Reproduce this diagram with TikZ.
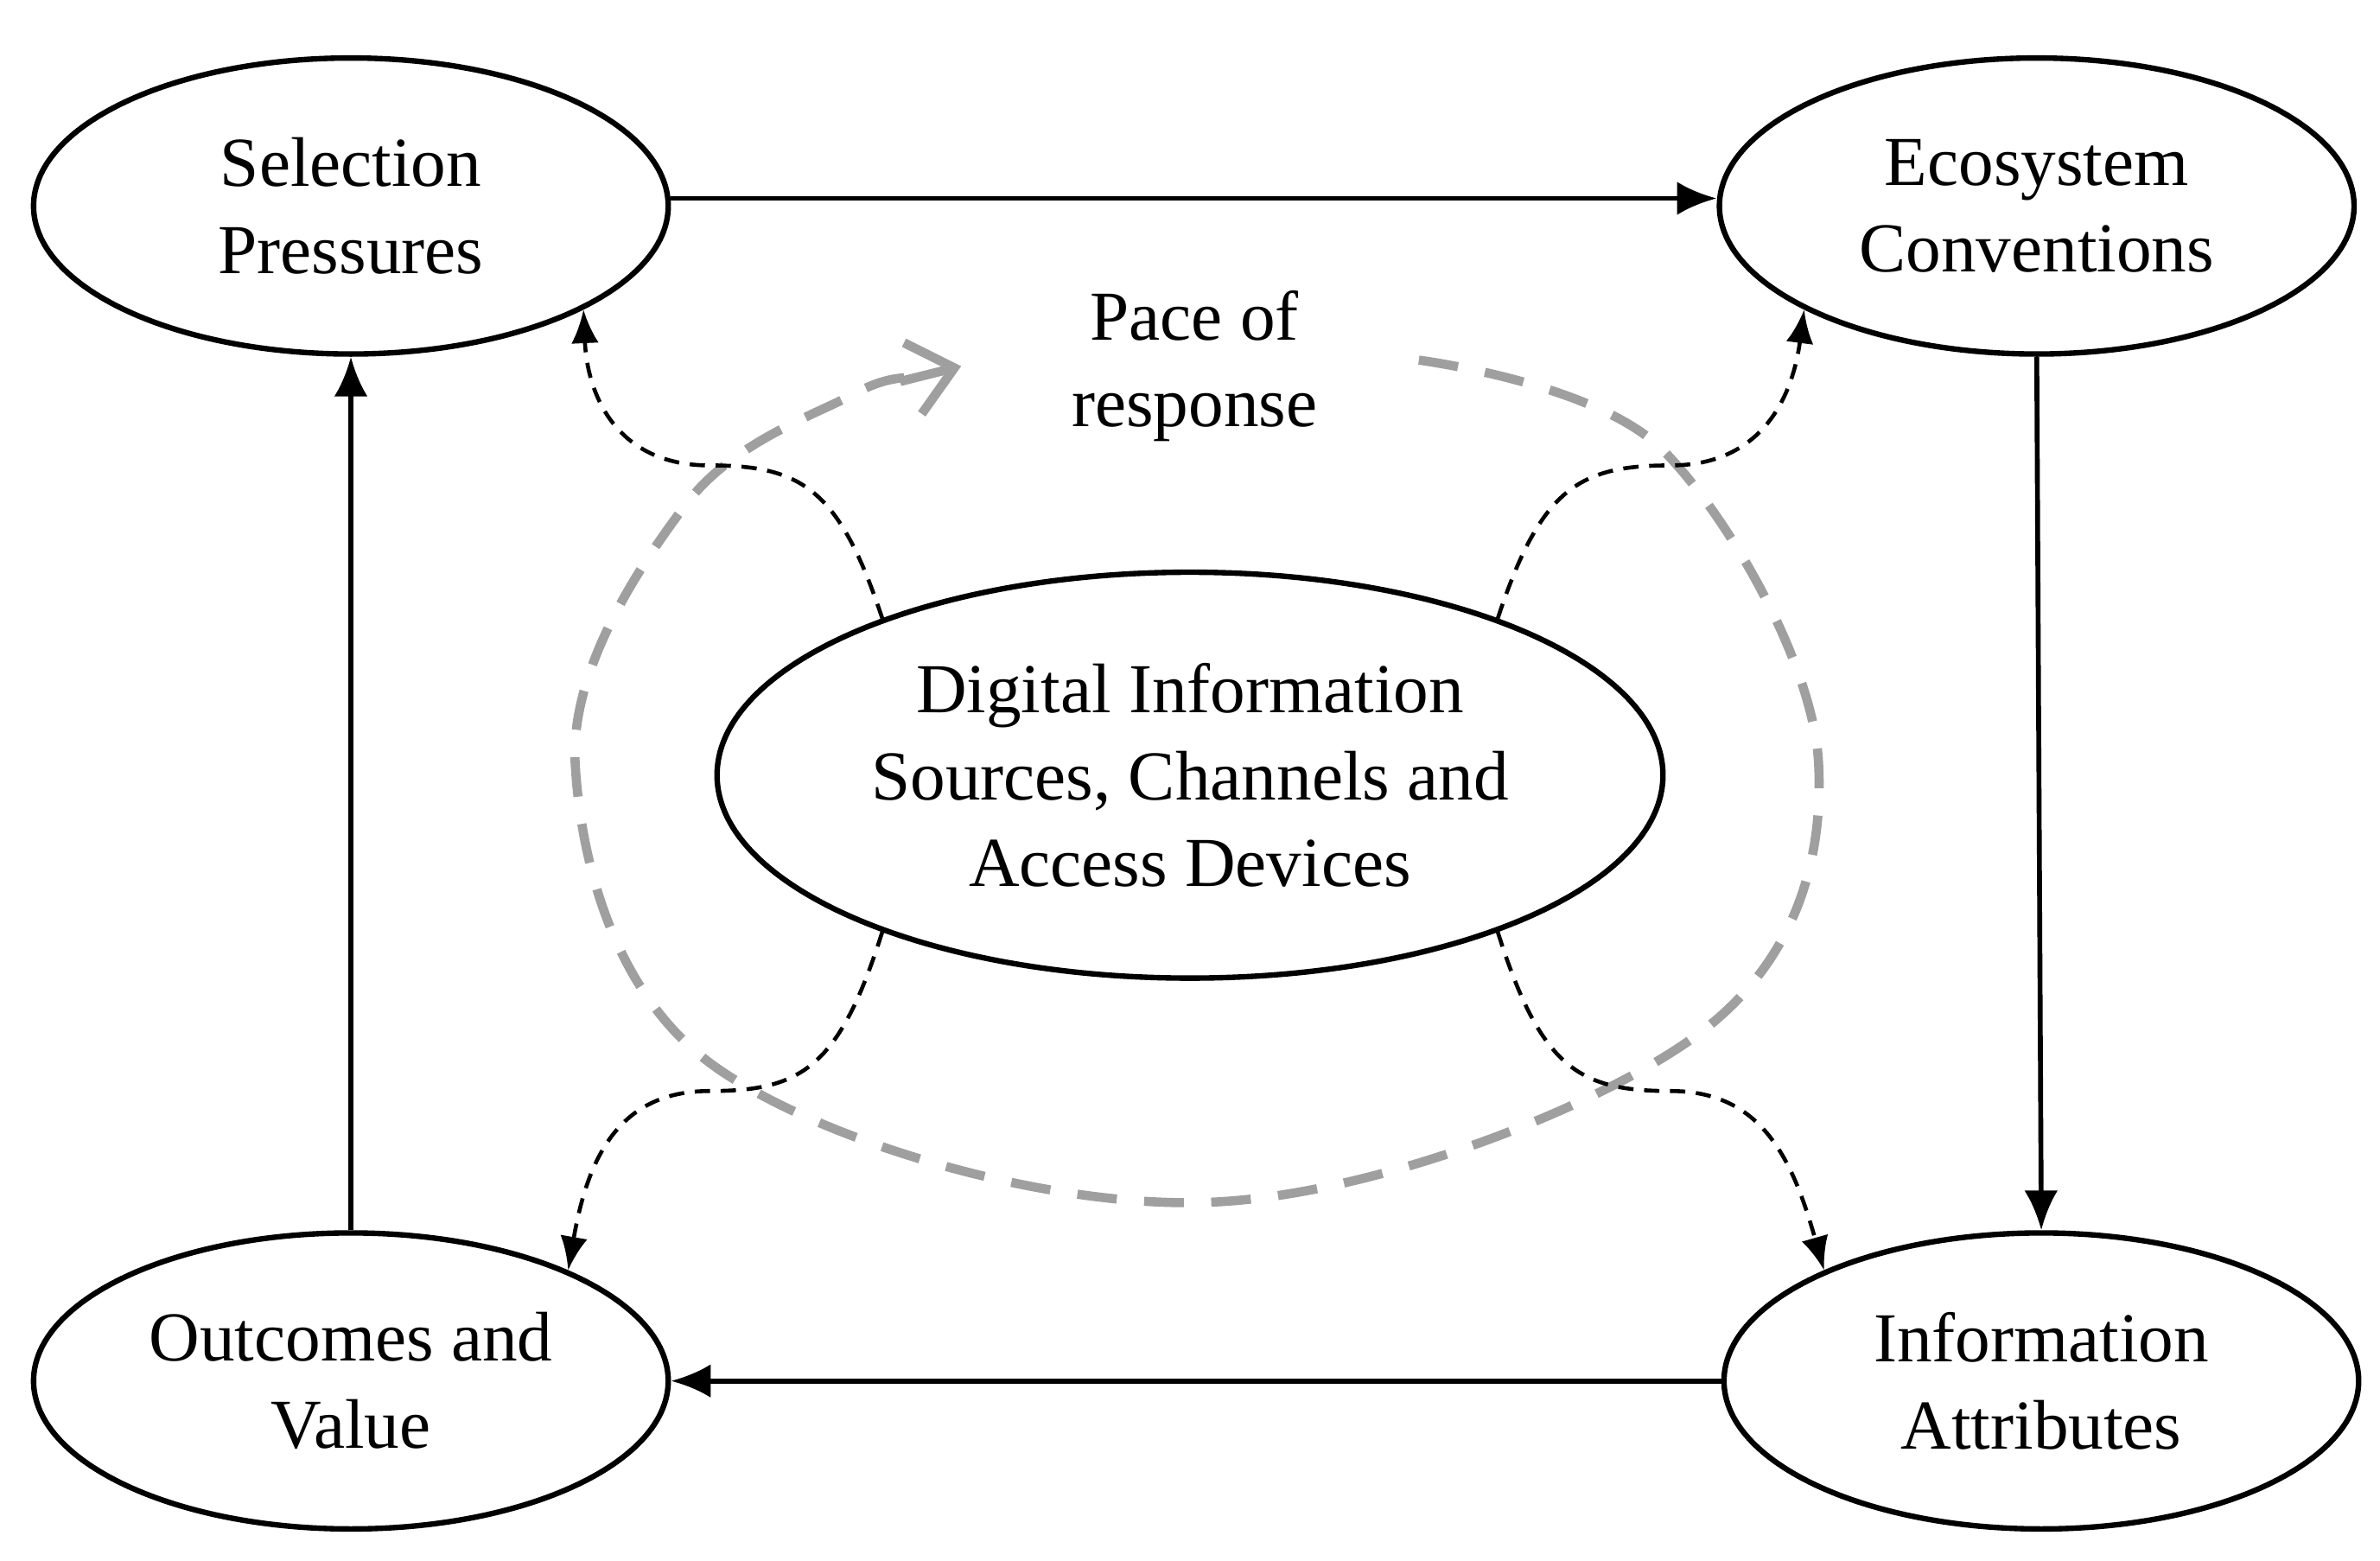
\documentclass[tikz,border=0pt]{standalone}
\usepackage{fontspec}
\setmainfont{Liberation Serif}
\usetikzlibrary{arrows.meta,shapes.geometric}

\tikzset{
  box/.style={ellipse,draw,line width=1.8pt,inner sep=0pt,align=center,
    minimum width=208pt,minimum height=97pt,font=\fontsize{23}{28.5}\selectfont},
  flow/.style={line width=1.6pt,-{Latex[length=13pt,width=11pt]}},
  link/.style={line width=1.3pt,dash pattern=on 5pt off 3.5pt,-{Latex[length=11pt,width=9pt]}},
  pace/.style={line width=3pt,gray!75,dash pattern=on 13pt off 9pt}
}

\begin{document}
\begin{tikzpicture}[x=0.5pt,y=0.5pt,yscale=-1]
\useasboundingbox (0,0) rectangle (1560,1023);

%ellipses
\node[box] (sel) at (230,135) {Selection\\Pressures};
\node[box] (eco) at (1335,135) {Ecosystem\\Conventions};
\node[box] (out) at (230,905) {Outcomes and\\Value};
\node[box] (att) at (1338,905) {Information\\Attributes};
\node[box,minimum width=310pt,minimum height=133pt] (dig) at (780,508)
  {Digital Information\\Sources, Channels and\\Access Devices};

%pace of response loop
\draw[pace] plot[smooth,tension=0.6] coordinates {(930,236) (1090,295) (1192,500) (1110,680) (790,788) (470,700) (377,500) (450,330) (560,258) (600,248)};
\draw[line width=3pt,gray!75,-{Straight Barb[length=14pt,width=24pt]}] (590,250) -- (630,240);
\node[font=\fontsize{23}{28.5}\selectfont,align=center] (pace) at (783,240) {Pace of\\response};

%main cycle
\draw[flow] (sel.east |- 0,130) -- (eco.west |- 0,130);
\draw[flow] (eco.south) -- (att.north);
\draw[flow] (att.west) -- (out.east);
\draw[flow] (out.north) -- (sel.south);

%influences from the centre
\draw[link] (dig.153) .. controls (550,320) and (525,305) .. (465,305) .. controls (405,305) and (385,260) .. (sel.-24);
\draw[link] (dig.27) .. controls (1010,320) and (1035,305) .. (1095,305) .. controls (1155,305) and (1175,260) .. (eco.-156);
\draw[link] (dig.-153) .. controls (550,700) and (525,715) .. (465,715) .. controls (405,715) and (385,760) .. (out.27);
\draw[link] (dig.-27) .. controls (1010,700) and (1035,715) .. (1095,715) .. controls (1155,715) and (1175,760) .. (att.153);
\end{tikzpicture}
\end{document}
